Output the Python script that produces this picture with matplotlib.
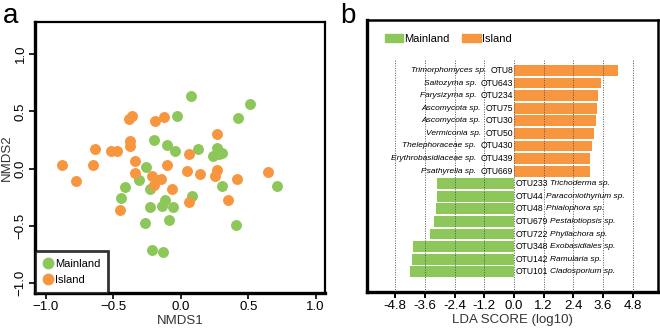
import matplotlib
matplotlib.use("Agg")
from matplotlib import pyplot as plt
from matplotlib.patches import Patch
from matplotlib.lines import Line2D

GREEN = "#8dc75a"
ORANGE = "#f7963f"

# panel a: NMDS ordination
mainland_x = [0.072, 0.516, 0.427, -0.027, -0.198, -0.104, -0.042, 0.131, 0.240, 0.272,
              0.280, 0.306, -0.257, -0.309, -0.417, -0.442, -0.225, -0.114, -0.138, -0.232,
              -0.057, 0.086, 0.306, 0.711, -0.091, -0.269, 0.412, -0.212, -0.131]
mainland_y = [0.637, 0.567, 0.442, 0.459, 0.253, 0.206, 0.154, 0.169, 0.110, 0.177,
              0.125, 0.138, 0.017, -0.102, -0.160, -0.253, -0.180, -0.270, -0.326, -0.334,
              -0.337, -0.241, -0.151, -0.148, -0.448, -0.477, -0.494, -0.709, -0.727]
island_x = [-0.385, -0.360, -0.188, -0.126, -0.375, -0.373, -0.637, -0.516, -0.472, -0.338,
            -0.336, -0.881, -0.652, -0.775, -0.215, -0.202, -0.146, -0.099, -0.064, 0.064,
            0.044, 0.143, 0.267, 0.267, 0.257, 0.417, 0.647, 0.353, 0.064, -0.449]
island_y = [0.430, 0.456, 0.413, 0.451, 0.244, 0.198, 0.174, 0.151, 0.151, 0.070,
            -0.038, 0.032, 0.032, -0.108, -0.061, -0.145, -0.087, 0.029, -0.177, 0.125,
            -0.023, -0.044, 0.299, -0.009, -0.064, -0.093, -0.026, -0.270, -0.288, -0.363]
nmds_ticks = [-1.0, -0.5, 0.0, 0.5, 1.0]

# panel b: LEfSe LDA scores (top to bottom)
otu_ids = ["OTU8", "OTU643", "OTU234", "OTU75", "OTU30", "OTU50", "OTU430", "OTU439", "OTU669",
           "OTU233", "OTU44", "OTU48", "OTU679", "OTU722", "OTU348", "OTU142", "OTU101"]
species = ["Trimorphomyces sp.", "Saitozyma sp.", "Farysizyma sp.", "Ascomycota sp.",
           "Ascomycota sp.", "Vermiconia sp.", "Thelephoraceae sp.", "Erythrobasidiaceae sp.",
           "Psathyrella sp.", "Trichoderma sp.", "Paraconiothyrium sp.", "Phialophora sp.",
           "Pestalotiopsis sp.", "Phyllachora sp.", "Exobasidiales sp.", "Ramularia sp.",
           "Cladosporium sp."]
lda = [4.21, 3.50, 3.39, 3.34, 3.30, 3.23, 3.15, 3.08, 3.07,
       -3.11, -3.11, -3.15, -3.22, -3.41, -4.09, -4.13, -4.21]
lda_ticks = [-4.8, -3.6, -2.4, -1.2, 0.0, 1.2, 2.4, 3.6, 4.8]

plt.rcParams['font.family'] = ['Liberation Sans', 'DejaVu Sans']

fig = plt.figure(figsize=(6.6, 3.3), dpi=100)

# ---- panel a ----
ax = fig.add_axes([0.053, 0.112, 0.439, 0.821])
ax.scatter(mainland_x, mainland_y, s=62, color=GREEN, linewidths=0, zorder=3)
ax.scatter(island_x, island_y, s=62, color=ORANGE, linewidths=0, zorder=3)
ax.set_xlim(-1.081, 1.067)
ax.set_ylim(-1.085, 1.279)
ax.set_xticks(nmds_ticks)
ax.set_yticks(nmds_ticks)
ax.set_xticklabels([f"{t:.1f}".replace("-", "\u2212") for t in nmds_ticks], fontsize=9.5)
ax.set_yticklabels([f"{t:.1f}".replace("-", "\u2212") for t in nmds_ticks], fontsize=9.5,
                   rotation=90, va="center")
ax.tick_params(length=4, width=1.2, color="black", pad=2)
for side in ["left", "bottom"]:
    ax.spines[side].set_linewidth(2.4)
for side in ["top", "right"]:
    ax.spines[side].set_linewidth(1.6)
ax.set_xlabel("NMDS1", fontsize=9.5, labelpad=1, color="#333333")
ax.set_ylabel("NMDS2", fontsize=9.5, labelpad=1, color="#333333")

handles = [Line2D([], [], marker="o", ls="", color=GREEN, markersize=8.5, markeredgewidth=0),
           Line2D([], [], marker="o", ls="", color=ORANGE, markersize=8.5, markeredgewidth=0)]
leg = ax.legend(handles, ["Mainland", "Island"], loc="lower left", bbox_to_anchor=(0, 0),
                fontsize=8, frameon=True, fancybox=False, borderaxespad=0,
                handletextpad=0.1, handlelength=1.0, borderpad=0.7, labelspacing=0.6)
leg.get_frame().set_edgecolor("black")
leg.get_frame().set_linewidth(2.0)

fig.text(0.005, 0.99, "a", fontsize=20, va="top", ha="left")

# ---- panel b ----
bx = fig.add_axes([0.556, 0.115, 0.441, 0.824])
n = len(lda)
ypos = list(range(n - 1, -1, -1))
colors = [ORANGE if v > 0 else GREEN for v in lda]
bx.barh(ypos, lda, height=0.86, color=colors, zorder=2)
bx.set_xlim(-5.94, 5.82)
bx.set_ylim(-1.61, 20.0)
bx.vlines(lda_ticks, -1.61, n - 0.2, colors="#555555", linestyles=(0, (1, 1.5)),
          linewidth=0.7, zorder=3)
bx.set_yticks([])
bx.set_xticks(lda_ticks)
bx.set_xticklabels([f"{t:.1f}" for t in lda_ticks], fontsize=9.5)
bx.tick_params(axis="x", length=4, width=1.4, pad=2)
for side in ["left", "bottom"]:
    bx.spines[side].set_linewidth(2.4)
for side in ["top", "right"]:
    bx.spines[side].set_linewidth(1.8)
bx.set_xlabel("LDA SCORE (log10)", fontsize=9.5, labelpad=1, color="#333333")

for y, v, oid, sp in zip(ypos, lda, otu_ids, species):
    if v > 0:
        t = bx.text(-0.04, y, oid, ha="right", va="center", fontsize=6.2)
        bx.annotate(sp, xy=(0, 0.5), xycoords=t, xytext=(-3, 0), textcoords="offset points",
                    ha="right", va="center", fontsize=6, style="italic")
    else:
        t = bx.text(0.05, y, oid, ha="left", va="center", fontsize=6.2)
        bx.annotate(sp, xy=(1, 0.5), xycoords=t, xytext=(2, 0), textcoords="offset points",
                    ha="left", va="center", fontsize=6, style="italic")

bx.legend([Patch(color=GREEN), Patch(color=ORANGE)], ["Mainland", "Island"],
          loc="upper left", bbox_to_anchor=(0.045, 0.965), ncol=2, frameon=False,
          fontsize=8, handlelength=1.7, handleheight=0.65, handletextpad=0.1,
          columnspacing=1.1, borderaxespad=0)

fig.text(0.515, 0.99, "b", fontsize=20, va="top", ha="left")

fig.savefig("out.png", dpi=100)
